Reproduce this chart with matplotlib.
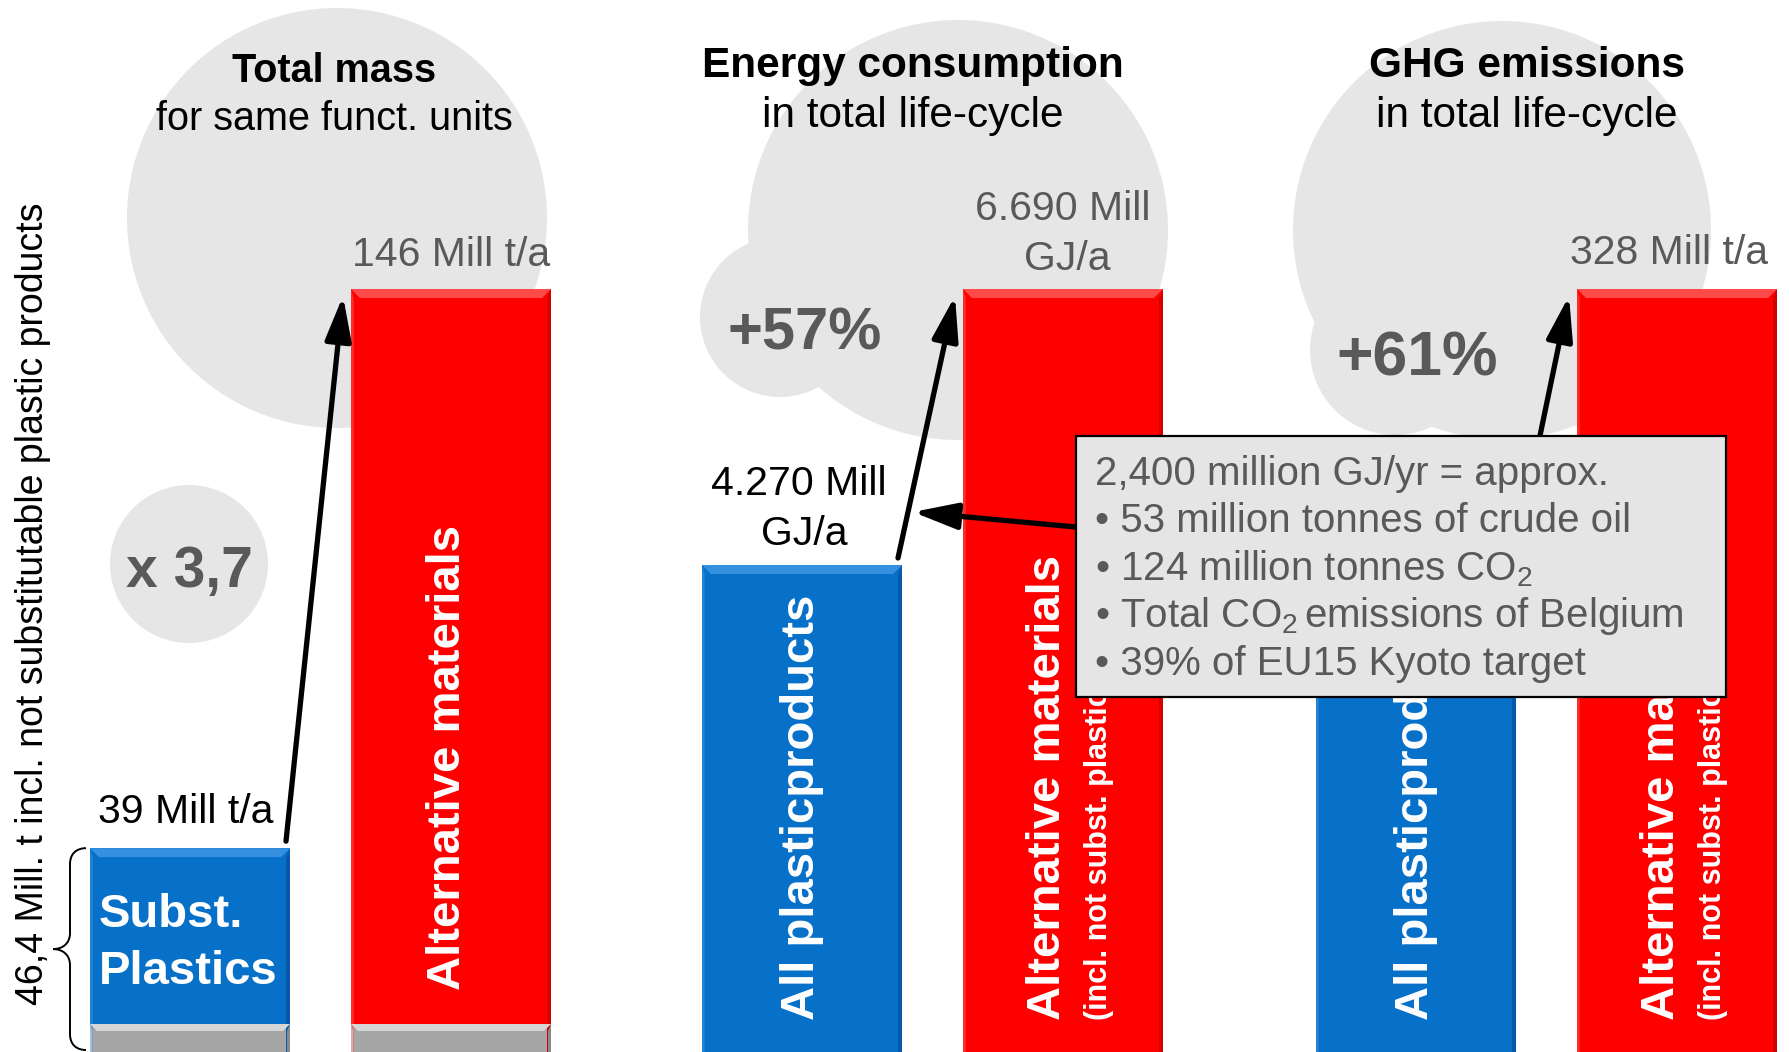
import matplotlib
matplotlib.use("Agg")
import matplotlib.pyplot as plt
from matplotlib.patches import Circle, Rectangle, Polygon, FancyArrowPatch, PathPatch
from matplotlib.path import Path

plt.rcParams["font.family"] = ["Liberation Sans", "DejaVu Sans"]
plt.rcParams["mathtext.fontset"] = "custom"
plt.rcParams["mathtext.rm"] = "Liberation Sans"
plt.rcParams["mathtext.it"] = "Liberation Sans:italic"
plt.rcParams["mathtext.bf"] = "Liberation Sans:bold"

# ---------------- data ----------------
titles = ["Total mass", "Energy consumption", "GHG emissions"]
subtitles = ["for same funct. units", "in total life-cycle", "in total life-cycle"]
mass = [39, 146]          # Mill t/a : substitutable plastics vs. alternative materials
energy = [4270, 6690]     # Mill GJ/a : all plastic products vs. alternative materials
ghg = [204, 328]          # Mill t/a : all plastic products vs. alternative materials
plastic_names = ["Subst.\nPlastics", "All plasticproducts", "All plasticproducts"]
alt_name = "Alternative materials"
alt_note = "(incl. not subst. plastics)"
side_note = "46,4 Mill. t incl. not substitutable plastic products"
box_lines = [
    "2,400 million GJ/yr = approx.",
    "\u2022 53 million tonnes of crude oil",
    "\u2022 124 million tonnes CO$_2$",
    "\u2022 Total CO$_2\\,$emissions of Belgium",
    "\u2022 39% of EU15 Kyoto target",
]

# labels derived from the values
mass_labels = [f"{v} Mill t/a" for v in mass]
energy_labels = [f"{v:,}".replace(",", ".") + " Mill" for v in energy]
ghg_label = f"{ghg[1]} Mill t/a"
ratio_texts = [
    "x " + f"{mass[1] / mass[0]:.1f}".replace(".", ","),
    f"+{round((energy[1] / energy[0] - 1) * 100)}%",
    f"+{round((ghg[1] / ghg[0] - 1) * 100)}%",
]

# ---------------- style / layout ----------------
FIG_W, FIG_H, DPI = 1789, 1052, 100
UNIT = 261                 # px between the two bar centres of a panel
BAR_W = 200                # bar width in px
BLUE_CENTERS = [190, 802, 1416]
TOP_FRAC = (FIG_H - 289) / FIG_H   # the taller bar of each panel reaches this height
BLUE, BLUE_L, BLUE_D = "#0770C8", "#3590E0", "#0559A8"
RED, RED_L, RED_D = "#FE0000", "#FF4A4A", "#D40000"
GREY, GREY_L, GREY_D = "#A6A6A6", "#D6D6D6", "#8A8A8A"
CLOUD = "#E6E6E6"
DARK = "#595959"

fig = plt.figure(figsize=(FIG_W / DPI, FIG_H / DPI), dpi=DPI)

ax_bg = fig.add_axes([0, 0, 1, 1], zorder=0, label="bg")
ax_fg = fig.add_axes([0, 0, 1, 1], zorder=3, label="fg")
for a in (ax_bg, ax_fg):
    a.set_xlim(0, FIG_W)
    a.set_ylim(FIG_H, 0)
    a.axis("off")

# grey bubbles behind the headings
for cx, cy, r in [(337, 218, 210), (189, 564, 79),
                  (958, 230, 210), (780, 317, 80),
                  (1502, 230, 209), (1395, 350, 85)]:
    ax_bg.add_patch(Circle((cx, cy), r, fc=CLOUD, ec="none"))


def make_panel(i, values):
    left = BLUE_CENTERS[i] - 0.5 * UNIT
    ax = fig.add_axes([left / FIG_W, 0, 2 * UNIT / FIG_W, 1], zorder=1, label=f"panel{i}")
    ymax = values[1] / TOP_FRAC
    ax.set_xlim(-0.5, 1.5)
    ax.set_ylim(0, ymax)
    ax.axis("off")
    return ax, 1.0 / UNIT, ymax / FIG_H


def bevel_bar(ax, x, top, face, light, dark, sx, sy, bottom=0.0, bevel=9):
    hw = BAR_W / UNIT / 2
    x0, x1 = x - hw, x + hw
    ax.bar(x, top - bottom, bottom=bottom, width=2 * hw, color=face, lw=0, zorder=2)
    bx, by = bevel * sx, bevel * sy
    ax.add_patch(Polygon([(x1, top), (x1, bottom), (x1 - bx * 0.4, bottom),
                          (x1 - bx * 0.4, top - by)], closed=True, fc=dark, lw=0, zorder=3))
    ax.add_patch(Polygon([(x0, top), (x0 + bx * 0.3, top - by), (x0 + bx * 0.3, bottom),
                          (x0, bottom)], closed=True, fc=light, lw=0, zorder=3, alpha=0.6))
    ax.add_patch(Polygon([(x0, top), (x1, top), (x1 - bx, top - by), (x0 + bx, top - by)],
                         closed=True, fc=light, lw=0, zorder=3))


def growth_arrow(ax, values, sx, sy):
    hw = BAR_W / UNIT / 2
    a = (0 + hw - 4 * sx, values[0] + 7 * sy)
    b = (1 - hw - 8 * sx, values[1] - 7 * sy)
    ax.add_patch(FancyArrowPatch(a, b, arrowstyle="-|>,head_length=27,head_width=8",
                                 mutation_scale=1, lw=3.8, color="black",
                                 shrinkA=0, shrinkB=0, zorder=6, clip_on=False))


def vlabel(ax, x, y, s, size):
    ax.text(x, y, s, rotation=90, rotation_mode="anchor", ha="left", va="center",
            color="white", fontsize=size, fontweight="bold", zorder=5)


# ---------------- panel 1: total mass ----------------
ax1, sx1, sy1 = make_panel(0, mass)
hw = BAR_W / UNIT / 2
for x, v, c in zip([0, 1], mass, [(BLUE, BLUE_L, BLUE_D), (RED, RED_L, RED_D)]):
    bevel_bar(ax1, x, v, *c, sx1, sy1)
    bevel_bar(ax1, x, 28 * sy1, GREY, GREY_L, GREY_D, sx1, sy1, bevel=7)
ax1.annotate(mass_labels[0], (0, mass[0]), xytext=(-4, 25), textcoords="offset pixels",
             ha="center", va="baseline", fontsize=29.5, color="black", zorder=6)
ax1.annotate(mass_labels[1], (1, mass[1]), xytext=(0, 23), textcoords="offset pixels",
             ha="center", va="baseline", fontsize=29.5, color=DARK, zorder=6)
for k, line in enumerate(plastic_names[0].split("\n")):
    ax1.text(-hw + 9 * sx1, (FIG_H - [927, 984][k]) * sy1, line, ha="left", va="baseline",
             color="white", fontsize=34, fontweight="bold", zorder=5)
vlabel(ax1, 1 - 3 * sx1, 62 * sy1, alt_name, 34)
growth_arrow(ax1, mass, sx1, sy1)

# curly brace spanning the plastics bar
top, bot = mass[0], 2 * sy1
mid = (top + bot) / 2
X = lambda px: -hw + px * sx1
Y = lambda py: py * sy1
verts = [
    (X(-4), top),
    (X(-13), top), (X(-20), top - Y(5)), (X(-20), top - Y(16)),
    (X(-20), mid + Y(16)),
    (X(-20), mid + Y(6)), (X(-27), mid), (X(-37), mid),
    (X(-27), mid), (X(-20), mid - Y(6)), (X(-20), mid - Y(16)),
    (X(-20), bot + Y(16)),
    (X(-20), bot + Y(5)), (X(-13), bot), (X(-4), bot),
]
codes = [Path.MOVETO, Path.CURVE4, Path.CURVE4, Path.CURVE4, Path.LINETO,
         Path.CURVE4, Path.CURVE4, Path.CURVE4, Path.CURVE4, Path.CURVE4, Path.CURVE4,
         Path.LINETO, Path.CURVE4, Path.CURVE4, Path.CURVE4]
ax1.add_patch(PathPatch(Path(verts, codes), fc="none", ec="black", lw=1.4,
                        clip_on=False, zorder=4))

# ---------------- panel 2: energy ----------------
ax2, sx2, sy2 = make_panel(1, energy)
for x, v, c in zip([0, 1], energy, [(BLUE, BLUE_L, BLUE_D), (RED, RED_L, RED_D)]):
    bevel_bar(ax2, x, v, *c, sx2, sy2)
ax2.annotate(energy_labels[0], (0, energy[0]), xytext=(-3, 70), textcoords="offset pixels",
             ha="center", va="baseline", fontsize=29.5, color="black", zorder=6)
ax2.annotate("GJ/a", (0, energy[0]), xytext=(2, 20), textcoords="offset pixels",
             ha="center", va="baseline", fontsize=29.5, color="black", zorder=6)
ax2.annotate(energy_labels[1], (1, energy[1]), xytext=(0, 69), textcoords="offset pixels",
             ha="center", va="baseline", fontsize=29.5, color=DARK, zorder=6)
ax2.annotate("GJ/a", (1, energy[1]), xytext=(4, 19), textcoords="offset pixels",
             ha="center", va="baseline", fontsize=29.5, color=DARK, zorder=6)
vlabel(ax2, 0, 32 * sy2, plastic_names[1], 34)
vlabel(ax2, 1 - 15 * sx2, 32 * sy2, alt_name, 34)
vlabel(ax2, 1 + 36 * sx2, 32 * sy2, alt_note, 22)
growth_arrow(ax2, energy, sx2, sy2)

# ---------------- panel 3: GHG ----------------
ax3, sx3, sy3 = make_panel(2, ghg)
for x, v, c in zip([0, 1], ghg, [(BLUE, BLUE_L, BLUE_D), (RED, RED_L, RED_D)]):
    bevel_bar(ax3, x, v, *c, sx3, sy3)
ax3.annotate(ghg_label, (1, ghg[1]), xytext=(-8, 25), textcoords="offset pixels",
             ha="center", va="baseline", fontsize=29.5, color=DARK, zorder=6,
             annotation_clip=False)
vlabel(ax3, 0, 32 * sy3, plastic_names[2], 34)
vlabel(ax3, 1 - 15 * sx3, 32 * sy3, alt_name, 34)
vlabel(ax3, 1 + 36 * sx3, 32 * sy3, alt_note, 22)
growth_arrow(ax3, ghg, sx3, sy3)

# ---------------- headings and ratios ----------------
title_x = [334, 913, 1527]
title_base = [82, 77, 77]
sub_base = [130, 127, 127]
title_size = [28.5, 30.5, 30.5]
for t, s, x, tb, sb, fs in zip(titles, subtitles, title_x, title_base, sub_base, title_size):
    ax_fg.text(x, tb, t, ha="center", va="baseline", fontsize=fs, fontweight="bold")
    ax_fg.text(x, sb, s, ha="center", va="baseline", fontsize=fs)

for txt, x, yb, fs in zip(ratio_texts, [189, 805, 1417], [587, 350, 375], [41, 43, 45]):
    ax_fg.text(x, yb, txt, ha="center", va="baseline", fontsize=fs,
               fontweight="bold", color=DARK)

ax_fg.text(33, 604, side_note, rotation=90, ha="center", va="center", fontsize=27)

# ---------------- info box ----------------
ax_fg.add_patch(FancyArrowPatch((1076, 527), (913, 512),
                                arrowstyle="-|>,head_length=27,head_width=8",
                                mutation_scale=1, lw=3.8, color="black",
                                shrinkA=0, shrinkB=0, zorder=2))
ax_fg.add_patch(Rectangle((1076, 436), 650, 261, fc="#E5E5E5", ec="black", lw=1.6, zorder=3))
for line, yb in zip(box_lines, [485, 532, 580, 627, 675]):
    ax_fg.text(1095, yb, line, ha="left", va="baseline", fontsize=29, color=DARK, zorder=4)

fig.savefig("out.png", dpi=DPI)
